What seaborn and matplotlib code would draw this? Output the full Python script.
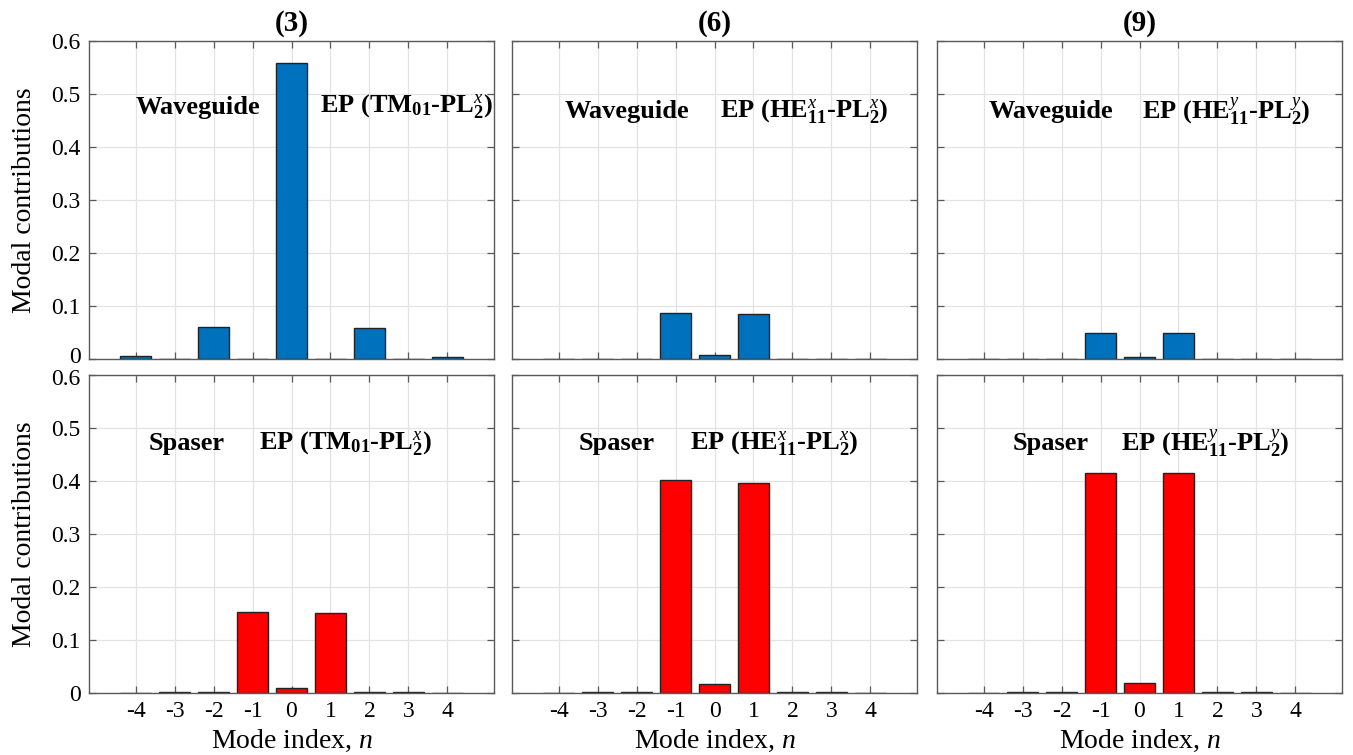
import matplotlib
matplotlib.use("Agg")
import matplotlib.pyplot as plt
import matplotlib.transforms as mtransforms
import numpy as np
import pandas as pd
import seaborn as sns

# ---------------- data ----------------
modes = [-4, -3, -2, -1, 0, 1, 2, 3, 4]
panel_titles = ["(3)", "(6)", "(9)"]

waveguide_3 = [0.005, 0.0, 0.060, 0.0, 0.559, 0.0, 0.058, 0.0, 0.004]
waveguide_6 = [0.0, 0.0, 0.0, 0.086, 0.008, 0.085, 0.0, 0.0, 0.0]
waveguide_9 = [0.0, 0.0, 0.0, 0.049, 0.004, 0.049, 0.0, 0.0, 0.0]

spaser_3 = [0.0, 0.001, 0.001, 0.153, 0.009, 0.151, 0.001, 0.001, 0.0]
spaser_6 = [0.0, 0.001, 0.002, 0.402, 0.017, 0.396, 0.002, 0.001, 0.0]
spaser_9 = [0.0, 0.001, 0.002, 0.416, 0.018, 0.416, 0.002, 0.001, 0.0]

ep_labels = [
    r"EP (TM$_{\mathbf{01}}$-PL$_{\mathbf{2}}^{x}$)",
    r"EP (HE$_{\mathbf{11}}^{x}$-PL$_{\mathbf{2}}^{x}$)",
    r"EP (HE$_{\mathbf{11}}^{y}$-PL$_{\mathbf{2}}^{y}$)",
]
row_names = ["Waveguide", "Spaser"]
yticks = [0, 0.1, 0.2, 0.3, 0.4, 0.5, 0.6]
ytick_labels = ["0", "0.1", "0.2", "0.3", "0.4", "0.5", "0.6"]

# ---------------- style ----------------
sns.set_theme(style="white")
plt.rcParams["font.family"] = ["Liberation Serif", "DejaVu Serif"]
plt.rcParams["mathtext.fontset"] = "custom"
plt.rcParams["mathtext.rm"] = "Liberation Serif"
plt.rcParams["mathtext.it"] = "Liberation Serif:italic"
plt.rcParams["mathtext.bf"] = "Liberation Serif:bold"
plt.rcParams["text.color"] = "black"
plt.rcParams["axes.labelcolor"] = "black"
plt.rcParams["xtick.color"] = "black"
plt.rcParams["ytick.color"] = "black"

blue = "#0072BD"
red = "#FF0000"
spine_c = "#5a5a5a"
grid_c = "#e3e3e3"

fig = plt.figure(figsize=(13.53, 7.55), dpi=100)

lefts = [89 / 1353, 512 / 1353, 937 / 1353]
width = 405 / 1353
bottoms = [1 - 359 / 755, 1 - 692.7 / 755]
height = 317.5 / 755

data_rows = [[waveguide_3, waveguide_6, waveguide_9],
             [spaser_3, spaser_6, spaser_9]]
colors = [blue, red]

# label positions (data coords): (name_x, ep_x, y)
label_pos = [
    [(-4.0, 0.72, 0.476), (-3.86, 0.15, 0.467), (-3.88, 0.06, 0.467)],
    [(-3.66, -0.84, 0.47), (-3.5, -0.64, 0.47), (-3.27, -0.47, 0.47)],
]

for r in range(2):
    for c in range(3):
        ax = fig.add_axes([lefts[c], bottoms[r], width, height])
        df = pd.DataFrame({"mode": modes, "value": data_rows[r][c]})
        sns.barplot(data=df, x="mode", y="value", native_scale=True,
                    color=colors[r], saturation=1, edgecolor="#222222",
                    linewidth=1.0, width=0.8, errorbar=None, ax=ax)
        ax.set_xlim(-5.2, 5.2)
        ax.set_ylim(0, 0.6)
        ax.set_xticks(modes)
        ax.set_yticks(yticks)
        ax.set_axisbelow(True)
        ax.grid(True, color=grid_c, linewidth=0.9)
        for s in ax.spines.values():
            s.set_color(spine_c)
            s.set_linewidth(1.0)
        ax.tick_params(direction="in", length=5, width=0.9, color=spine_c,
                       top=True, right=True, bottom=True, left=True,
                       labelsize=17, labelcolor="black", pad=6)
        if r == 1:
            ax.set_xticklabels([str(m) for m in modes])
            ax.set_xlabel("Mode index, $n$", fontsize=20, labelpad=4)
        else:
            ax.set_xticklabels([])
            ax.set_xlabel("")
            ax.set_title(panel_titles[c], fontsize=21, fontweight="bold", pad=8)
        if c == 0:
            ax.set_yticklabels(ytick_labels)
            ax.set_ylabel("Modal contributions", fontsize=20, labelpad=10)
            # nudge the crowded end labels apart, as in the reference
            labels = ax.get_yticklabels()
            if r == 0:
                off = mtransforms.ScaledTranslation(0, 4 / 100, fig.dpi_scale_trans)
                labels[0].set_transform(labels[0].get_transform() + off)
            else:
                off = mtransforms.ScaledTranslation(0, -2 / 100, fig.dpi_scale_trans)
                labels[-1].set_transform(labels[-1].get_transform() + off)
        else:
            ax.set_yticklabels([])
            ax.set_ylabel("")
        nx, ex, ty = label_pos[r][c]
        ax.text(nx, ty, row_names[r], fontsize=19, fontweight="bold",
                ha="left", va="center", color="black")
        ax.text(ex, ty, ep_labels[c], fontsize=19, fontweight="bold",
                ha="left", va="center", color="black")

fig.savefig("out.png", dpi=100)
